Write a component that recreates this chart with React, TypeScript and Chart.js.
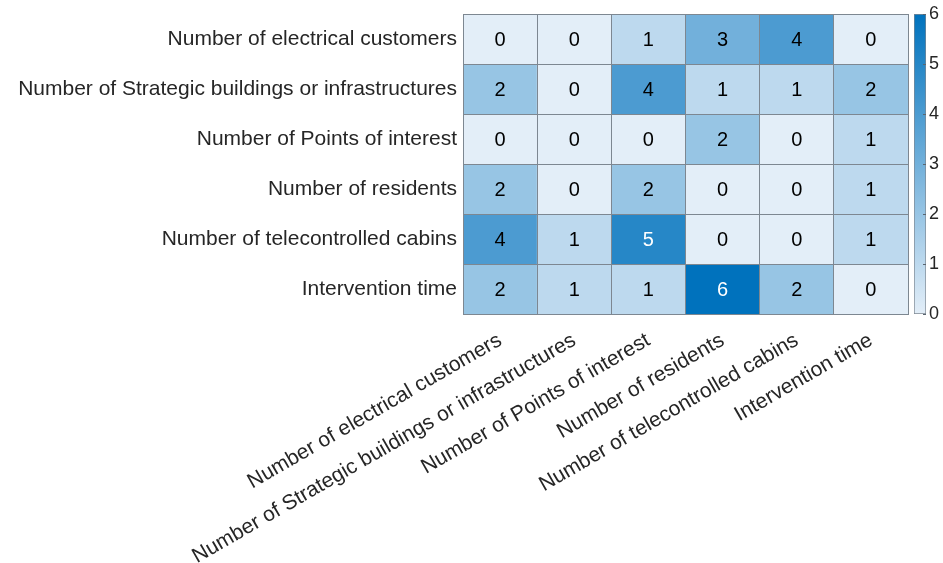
import React, { useEffect, useRef } from 'react';
import { Chart, registerables } from 'chart.js';
Chart.register(...registerables);

const colLabels = [
  'Number of electrical customers',
  'Number of Strategic buildings or infrastructures',
  'Number of Points of interest',
  'Number of residents',
  'Number of telecontrolled cabins',
  'Intervention time',
];
const rowLabels = [
  'Number of electrical customers',
  'Number of Strategic buildings or infrastructures',
  'Number of Points of interest',
  'Number of residents',
  'Number of telecontrolled cabins',
  'Intervention time',
];
const row0 = [0, 0, 1, 3, 4, 0];
const row1 = [2, 0, 4, 1, 1, 2];
const row2 = [0, 0, 0, 2, 0, 1];
const row3 = [2, 0, 2, 0, 0, 1];
const row4 = [4, 1, 5, 0, 0, 1];
const row5 = [2, 1, 1, 6, 2, 0];
const values = [row0, row1, row2, row3, row4, row5];
const colorbarTicks = [0, 1, 2, 3, 4, 5, 6];
const vMin = 0;
const vMax = 6;

const cLow = [227, 238, 248];
const cHigh = [0, 114, 189];
const FONT = "'Liberation Sans', Arial, Helvetica, sans-serif";
const TEXT = '#262626';
const GRID = '#7d8791';

function colorFor(v: number) {
  const t = (v - vMin) / (vMax - vMin);
  const c = cLow.map((a, i) => Math.round(a + (cHigh[i] - a) * t));
  return `rgb(${c[0]},${c[1]},${c[2]})`;
}

const labelPlugin = {
  id: 'cellLabels',
  afterDatasetsDraw(chart: any) {
    const ctx = chart.ctx;
    ctx.save();
    ctx.font = `20px ${FONT}`;
    ctx.textAlign = 'center';
    ctx.textBaseline = 'middle';
    chart.data.datasets.forEach((ds: any, i: number) => {
      const meta = chart.getDatasetMeta(i);
      meta.data.forEach((bar: any, j: number) => {
        const v = values[i][j];
        const yc = (bar.y + bar.base) / 2;
        ctx.fillStyle = v >= 5 ? '#ffffff' : '#000000';
        ctx.fillText(String(v), bar.x, yc + 1);
      });
    });
    ctx.restore();
  },
};

const cbTickPlugin = {
  id: 'cbTicks',
  afterDatasetsDraw(chart: any) {
    const ctx = chart.ctx;
    const y = chart.scales.y;
    const area = chart.chartArea;
    ctx.save();
    ctx.strokeStyle = '#5a6570';
    ctx.lineWidth = 1;
    y.ticks.forEach((t: any) => {
      const py = Math.round(y.getPixelForValue(t.value)) + 0.5;
      ctx.beginPath();
      ctx.moveTo(area.right - 3, py);
      ctx.lineTo(area.right, py);
      ctx.stroke();
    });
    ctx.restore();
  },
};

export default function App() {
  const heatRef = useRef<HTMLCanvasElement>(null);
  const cbRef = useRef<HTMLCanvasElement>(null);

  useEffect(() => {
    const heat = new Chart(heatRef.current!, {
      type: 'bar',
      data: {
        labels: colLabels,
        datasets: values.map((row, i) => ({
          label: rowLabels[i],
          data: row.map(() => [i, i + 1]),
          backgroundColor: row.map(colorFor),
          borderWidth: 0,
          barPercentage: 1,
          categoryPercentage: 1,
          grouped: false,
          xAxisID: 'x',
          yAxisID: 'y',
        })),
      } as any,
      options: {
        animation: false,
        responsive: true,
        maintainAspectRatio: false,
        layout: { padding: { top: 14, right: 35, bottom: 0, left: 0 } },
        plugins: { legend: { display: false }, tooltip: { enabled: false } },
        scales: {
          x: {
            type: 'category',
            labels: colLabels,
            offset: true,
            grid: { offset: true, color: GRID, lineWidth: 1, drawTicks: false, z: 1 },
            border: { display: true, color: GRID, z: 1 },
            ticks: {
              minRotation: 30,
              maxRotation: 30,
              autoSkip: false,
              color: TEXT,
              font: { size: 21, family: FONT },
              padding: 14,
            },
            afterFit: (s: any) => {
              s.height = 563 - 314;
              s.paddingLeft = 0;
              s.paddingRight = 0;
            },
          },
          y: {
            type: 'linear',
            min: 0,
            max: 6,
            reverse: true,
            display: false,
          },
          yLab: {
            type: 'category',
            labels: rowLabels,
            position: 'left',
            offset: true,
            grid: { offset: true, color: GRID, lineWidth: 1, drawTicks: false, z: 1 },
            border: { display: true, color: GRID, z: 1 },
            ticks: { color: TEXT, font: { size: 21, family: FONT }, padding: 6 },
            afterFit: (s: any) => {
              s.width = 463;
              s.paddingTop = 0;
              s.paddingBottom = 0;
            },
          },
        } as any,
      },
      plugins: [labelPlugin],
    });

    const cb = new Chart(cbRef.current!, {
      type: 'bar',
      data: {
        labels: ['cb'],
        datasets: [
          {
            data: [[vMin, vMax]],
            backgroundColor: (ctx: any) => {
              const area = ctx.chart.chartArea;
              if (!area) return colorFor(vMin);
              const g = ctx.chart.ctx.createLinearGradient(0, area.bottom, 0, area.top);
              g.addColorStop(0, colorFor(vMin));
              g.addColorStop(1, colorFor(vMax));
              return g;
            },
            borderColor: GRID,
            borderWidth: 1,
            borderSkipped: false,
            barPercentage: 1,
            categoryPercentage: 1,
          },
        ],
      } as any,
      options: {
        animation: false,
        responsive: true,
        maintainAspectRatio: false,
        layout: { padding: { top: 14, right: 0, bottom: 563 - 314, left: 914 } },
        plugins: { legend: { display: false }, tooltip: { enabled: false } },
        scales: {
          x: { display: false },
          y: {
            type: 'linear',
            position: 'right',
            min: vMin,
            max: vMax,
            afterBuildTicks: (s: any) => {
              s.ticks = colorbarTicks.map((v) => ({ value: v }));
            },
            grid: { display: false, drawTicks: false },
            border: { display: false },
            ticks: { color: TEXT, font: { size: 18, family: FONT }, padding: 3 },
            afterFit: (s: any) => {
              s.width = 943 - 926;
              s.paddingTop = 0;
              s.paddingBottom = 0;
            },
          },
        } as any,
      },
      plugins: [cbTickPlugin],
    });

    return () => {
      heat.destroy();
      cb.destroy();
    };
  }, []);

  return (
    <div style={{ position: 'fixed', left: 0, top: 0, width: 943, height: 563, background: '#fff' }}>
      <div style={{ position: 'absolute', left: 0, top: 0, width: 943, height: 563 }}>
        <canvas ref={heatRef} />
      </div>
      <div style={{ position: 'absolute', left: 0, top: 0, width: 943, height: 563 }}>
        <canvas ref={cbRef} />
      </div>
    </div>
  );
}
